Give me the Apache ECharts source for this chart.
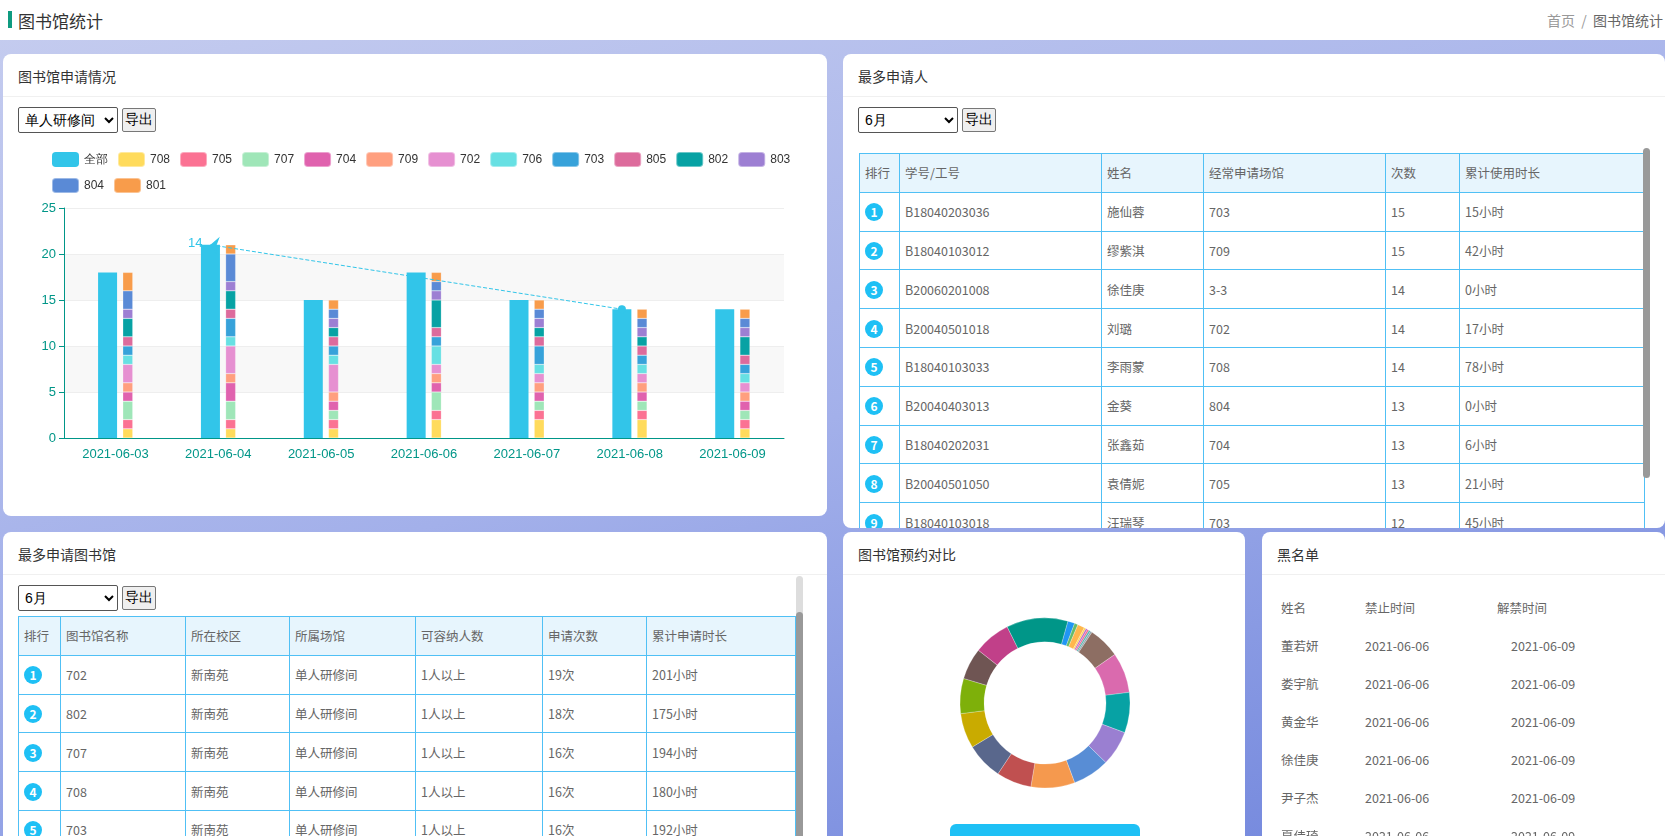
<!DOCTYPE html>
<html><head><meta charset="utf-8">
<script src="https://cdn.jsdelivr.net/npm/echarts@6/dist/echarts.min.js"></script>
<style>
*{box-sizing:border-box;margin:0;padding:0}
body{width:1665px;height:836px;overflow:hidden;font-family:"Noto Sans CJK SC","Noto Sans",sans-serif;color:#666;position:relative;
background:linear-gradient(165deg,#c6cdef 0%,#a3b0ea 50%,#6f84dc 100%)}
#hdr{position:absolute;left:0;top:0;width:1665px;height:40px;background:#fff}
#hdr .bar{position:absolute;left:8px;top:11px;width:4px;height:17px;background:#0f9b80}
#hdr .t{position:absolute;left:18px;top:8px;font-size:17px;color:#333}
#hdr .bc{position:absolute;left:1547px;top:10px;font-size:14px;color:#999;white-space:nowrap}
.card{position:absolute;background:#fff;border-radius:8px;overflow:hidden}
.card .ct{position:absolute;left:15px;top:12px;font-size:14px;color:#333}
.card .sep{position:absolute;left:0;right:0;top:42px;height:1px;background:#f0f0f0}
select{position:absolute;height:26px;font-size:14px;border:1px solid #555;border-radius:2px;background:#fff;color:#000;padding-left:2px}
button{position:absolute;height:24px;font-size:14px;border:1px solid #777;border-radius:2px;background:#efefef;color:#000;padding:0 2px}
table{position:absolute;border-collapse:collapse;font-size:12.5px;color:#666;table-layout:fixed}
td,th{border:1px solid #50c0f5;height:38.8px;text-align:left;padding-left:5px;font-weight:normal;white-space:nowrap;overflow:hidden}
th{background:#e7f5fd}
.rk{display:inline-block;width:18px;height:18px;border-radius:9px;background:#1ec0f5;color:#fff;text-align:center;line-height:18px;font-size:12px;font-weight:bold}
.sb{position:absolute;background:#999;border-radius:4px}
.bl{position:absolute;font-size:12.5px;color:#666}
</style></head><body>
<div id="hdr"><div class="bar"></div><div class="t">图书馆统计</div><div class="bc">首页 &nbsp;/&nbsp; <span style="color:#666">图书馆统计</span></div></div>

<div class="card" style="left:3px;top:54px;width:824px;height:462px">
 <div class="ct">图书馆申请情况</div><div class="sep"></div>
 <select style="left:15px;top:53px;width:100px"><option>单人研修间</option></select>
 <button style="left:119px;top:54px">导出</button>
 <div id="bar" style="position:absolute;left:0;top:86px;width:824px;height:376px"></div>
</div>

<div class="card" style="left:843px;top:54px;width:822px;height:474px">
 <div class="ct">最多申请人</div><div class="sep"></div>
 <select style="left:15px;top:53px;width:100px"><option>6月</option></select>
 <button style="left:119px;top:54px">导出</button>
 <table id="t1" style="left:16px;top:99px;width:785px"></table>
 <div class="sb" style="left:800px;top:94px;width:7px;height:330px"></div>
</div>

<div class="card" style="left:3px;top:532px;width:824px;height:320px">
 <div class="ct">最多申请图书馆</div><div class="sep"></div>
 <select style="left:15px;top:53px;width:100px"><option>6月</option></select>
 <button style="left:119px;top:54px">导出</button>
 <table id="t2" style="left:15px;top:84px;width:777px"></table>
 <div class="sb" style="left:793px;top:44px;width:7px;height:300px;background:#ddd"></div>
 <div class="sb" style="left:793px;top:80px;width:7px;height:245px"></div>
</div>

<div class="card" style="left:843px;top:532px;width:402px;height:320px">
 <div class="ct">图书馆预约对比</div><div class="sep"></div>
 <div id="pie" style="position:absolute;left:0;top:44px;width:402px;height:270px"></div>
 <div style="position:absolute;left:107px;top:292px;width:190px;height:30px;border-radius:6px;background:#1ec0f5"></div>
</div>

<div class="card" style="left:1262px;top:532px;width:403px;height:320px">
 <div class="ct">黑名单</div><div class="sep"></div>
 <div id="bl"></div>
</div>

<script>
var dates=['2021-06-03','2021-06-04','2021-06-05','2021-06-06','2021-06-07','2021-06-08','2021-06-09'];
var totalAll=[18,21,15,18,15,14,14];
var rooms=['708','705','707','704','709','702','706','703','805','802','803','804','801'];
var r708=[1,1,1,2,2,2,1];
var r705=[1,1,1,1,1,1,1];
var r707=[2,2,1,2,1,1,1];
var r704=[1,2,1,1,1,1,1];
var r709=[1,1,1,1,1,1,1];
var r702=[2,3,3,1,1,1,1];
var r706=[1,1,1,2,1,1,1];
var r703=[1,2,1,1,2,1,1];
var r805=[1,1,1,1,1,1,1];
var r802=[2,2,1,3,1,1,2];
var r803=[1,1,1,1,1,1,1];
var r804=[2,3,1,1,1,1,1];
var r801=[2,1,1,1,1,1,1];
var roomVals=[r708,r705,r707,r704,r709,r702,r706,r703,r805,r802,r803,r804,r801];
var colors=['#32c5e9','#ffdb5c','#fb7293','#9fe6b8','#e062ae','#ff9f7f','#e690d1','#67e0e3','#37a2da','#dd6b9c','#07a2a4','#9d7fd3','#5a8ad6','#f89c4b'];

var pieNames=['801','802','803','804','805','806','807','808','701','702','703','704','705','706','707','708','709','710','711','712','713'];
var pieVals=[4,2,4,1,1,1,1,1,18,23,23,20,21,25,20,21,20,20,18,21,35];
var pieColors=['#2196f3','#66bb6a','#ffb74d','#ffd54f','#ba68c8','#f06292','#4db6ac','#90a4ae','#8d6e63','#da6aae','#07a2a4','#9a7fd1','#588dd5','#f5994e','#c05050','#59678c','#c9ab00','#7eb00a','#6f5553','#c14089','#009688'];

var topUsers=[
['B18040203036','施仙蓉','703','15','15小时'],
['B18040103012','缪紫淇','709','15','42小时'],
['B20060201008','徐佳庚','3-3','14','0小时'],
['B20040501018','刘璐','702','14','17小时'],
['B18040103033','李雨蒙','708','14','78小时'],
['B20040403013','金葵','804','13','0小时'],
['B18040202031','张鑫茹','704','13','6小时'],
['B20040501050','袁倩妮','705','13','21小时'],
['B18040103018','汪瑞琴','703','12','45小时']];
var topLibs=[
['702','新南苑','单人研修间','1人以上','19次','201小时'],
['802','新南苑','单人研修间','1人以上','18次','175小时'],
['707','新南苑','单人研修间','1人以上','16次','194小时'],
['708','新南苑','单人研修间','1人以上','16次','180小时'],
['703','新南苑','单人研修间','1人以上','16次','192小时']];
var blackNames=['董若妍','娄宇航','黄金华','徐佳庚','尹子杰','夏佳琦'];
var blackFrom=['2021-06-06','2021-06-06','2021-06-06','2021-06-06','2021-06-06','2021-06-06'];
var blackTo=['2021-06-09','2021-06-09','2021-06-09','2021-06-09','2021-06-09','2021-06-09'];

function mk(id,heads,widths,rows){
  var h='<colgroup>'+widths.map(function(w){return '<col style="width:'+w+'px">';}).join('')+'</colgroup><tr>'+heads.map(function(x){return '<th>'+x+'</th>';}).join('')+'</tr>';
  rows.forEach(function(r,i){h+='<tr><td><span class="rk">'+(i+1)+'</span></td>'+r.map(function(c){return '<td>'+c+'</td>';}).join('')+'</tr>';});
  document.getElementById(id).innerHTML=h;
}
mk('t1',['排行','学号/工号','姓名','经常申请场馆','次数','累计使用时长'],[40,202,102,182,74,185],topUsers);
mk('t2',['排行','图书馆名称','所在校区','所属场馆','可容纳人数','申请次数','累计申请时长'],[42,125,104,126,127,104,149],topLibs);
var bh='<div class="bl" style="left:19px;top:66px">姓名</div><div class="bl" style="left:103px;top:66px">禁止时间</div><div class="bl" style="left:235px;top:66px">解禁时间</div>';
blackNames.forEach(function(n,i){var y=104+i*38;
 bh+='<div class="bl" style="left:19px;top:'+y+'px">'+n+'</div><div class="bl" style="left:103px;top:'+y+'px">'+blackFrom[i]+'</div><div class="bl" style="left:249px;top:'+y+'px">'+blackTo[i]+'</div>';});
document.getElementById('bl').innerHTML=bh;

var series=[{name:'全部',type:'bar',data:totalAll,barWidth:19,barGap:'30%',itemStyle:{color:colors[0]},
  markLine:{symbol:['arrow','circle'],symbolSize:[14,8],silent:true,
   lineStyle:{color:'#32c5e9',type:'dashed',width:1},
   label:{show:true,position:'start',formatter:'14',color:'#32c5e9',fontSize:13,distance:8},
   data:[[{coord:['2021-06-04',21]},{coord:['2021-06-08',14]}]]}}];
rooms.forEach(function(r,i){series.push({name:r,type:'bar',stack:'s',barWidth:10,data:roomVals[i],
  itemStyle:{color:colors[i+1],borderColor:'rgba(255,255,255,0.4)',borderWidth:0.5}});});
var bc=echarts.init(document.getElementById('bar'));
bc.setOption({animation:false,
 legend:{left:43,top:6,width:780,itemWidth:27,itemHeight:15,itemGap:9,textStyle:{color:'#333',fontSize:12},
   data:['全部'].concat(rooms)},
 grid:{left:61,right:43,top:68,height:230},
 xAxis:{type:'category',data:dates,axisLine:{lineStyle:{color:'#009688'}},axisTick:{show:false},
   axisLabel:{color:'#009688',fontSize:13,margin:10}},
 yAxis:{type:'value',min:0,max:25,interval:5,axisLine:{show:true,lineStyle:{color:'#009688'}},axisTick:{show:true},
   axisLabel:{color:'#009688',fontSize:13},splitLine:{lineStyle:{color:'#eee'}},
   splitArea:{show:true,areaStyle:{color:['rgba(255,255,255,0)','#f8f8f8']}}},
 series:series});

var pc=echarts.init(document.getElementById('pie'));
pc.setOption({animation:false,color:pieColors,
 series:[{type:'pie',center:[202,127],radius:[61,85],startAngle:74.4,label:{show:false},labelLine:{show:false},
  itemStyle:{borderColor:'rgba(255,255,255,0.5)',borderWidth:0.5},
  data:pieVals.map(function(v,i){return {name:pieNames[i],value:v};})}]});
</script>
</body></html>
